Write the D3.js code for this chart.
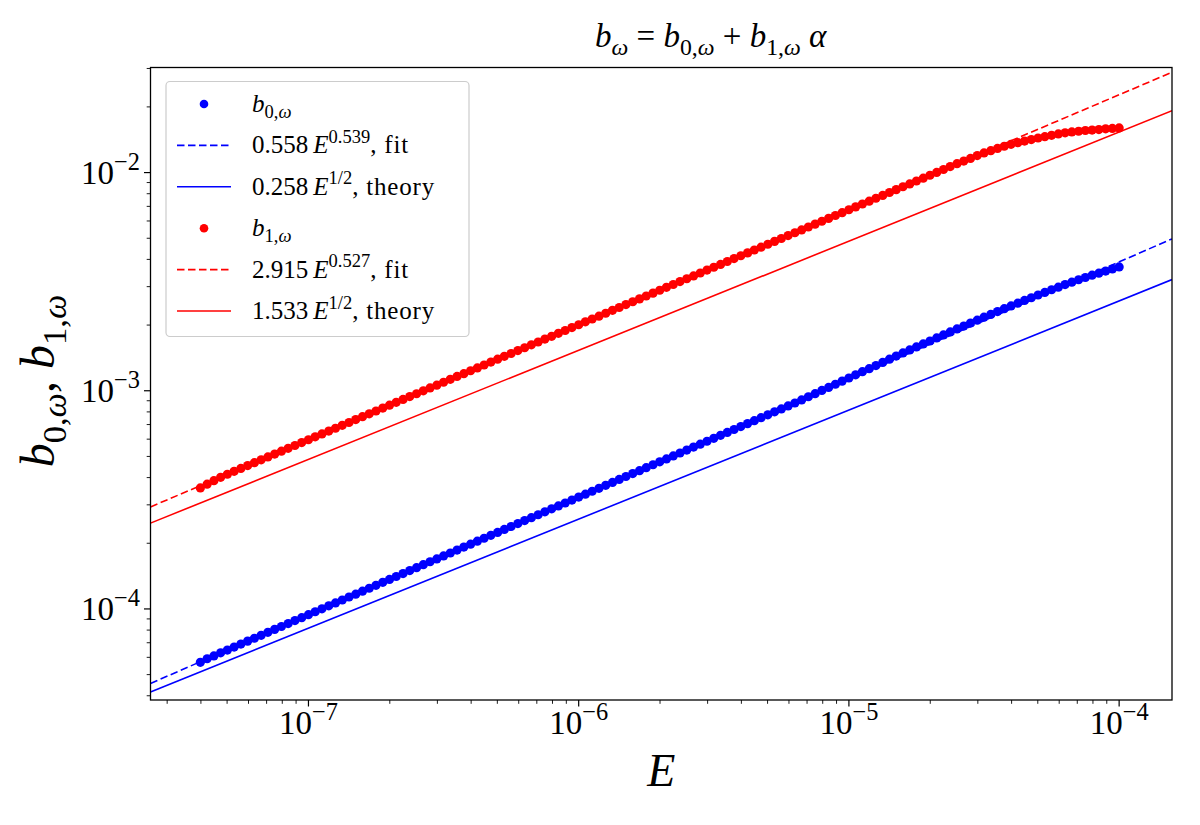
<!DOCTYPE html>
<html><head><meta charset="utf-8">
<script src="https://cdn.jsdelivr.net/npm/d3@7"></script>
<style>body{margin:0;background:#fff}svg{display:block}</style>
</head><body>
<svg id="c" width="1200" height="825"></svg>
<script>
// ---------------- data ----------------
const E = [
3.981e-8,4.217e-8,4.467e-8,4.732e-8,5.012e-8,5.309e-8,5.623e-8,5.957e-8,6.310e-8,6.683e-8,7.079e-8,7.499e-8,7.943e-8,8.414e-8,8.913e-8,9.441e-8,
1.000e-7,1.059e-7,1.122e-7,1.189e-7,1.259e-7,1.334e-7,1.413e-7,1.496e-7,1.585e-7,1.679e-7,1.778e-7,1.884e-7,1.995e-7,2.113e-7,2.239e-7,2.371e-7,2.512e-7,2.661e-7,2.818e-7,2.985e-7,3.162e-7,3.350e-7,3.548e-7,3.758e-7,3.981e-7,4.217e-7,4.467e-7,4.732e-7,5.012e-7,5.309e-7,5.623e-7,5.957e-7,6.310e-7,6.683e-7,7.079e-7,7.499e-7,7.943e-7,8.414e-7,8.913e-7,9.441e-7,
1.000e-6,1.059e-6,1.122e-6,1.189e-6,1.259e-6,1.334e-6,1.413e-6,1.496e-6,1.585e-6,1.679e-6,1.778e-6,1.884e-6,1.995e-6,2.113e-6,2.239e-6,2.371e-6,2.512e-6,2.661e-6,2.818e-6,2.985e-6,3.162e-6,3.350e-6,3.548e-6,3.758e-6,3.981e-6,4.217e-6,4.467e-6,4.732e-6,5.012e-6,5.309e-6,5.623e-6,5.957e-6,6.310e-6,6.683e-6,7.079e-6,7.499e-6,7.943e-6,8.414e-6,8.913e-6,9.441e-6,
1.000e-5,1.059e-5,1.122e-5,1.189e-5,1.259e-5,1.334e-5,1.413e-5,1.496e-5,1.585e-5,1.679e-5,1.778e-5,1.884e-5,1.995e-5,2.113e-5,2.239e-5,2.371e-5,2.512e-5,2.661e-5,2.818e-5,2.985e-5,3.162e-5,3.350e-5,3.548e-5,3.758e-5,3.981e-5,4.217e-5,4.467e-5,4.732e-5,5.012e-5,5.309e-5,5.623e-5,5.957e-5,6.310e-5,6.683e-5,7.079e-5,7.499e-5,7.943e-5,8.414e-5,8.913e-5,9.441e-5,
1.000e-4];

const b0 = [
5.69e-5,5.91e-5,6.09e-5,6.29e-5,6.48e-5,6.69e-5,6.90e-5,7.12e-5,7.34e-5,7.57e-5,7.81e-5,8.06e-5,8.31e-5,8.57e-5,8.84e-5,9.12e-5,9.41e-5,9.71e-5,
1.001e-4,1.033e-4,1.065e-4,1.099e-4,1.134e-4,1.169e-4,1.206e-4,1.244e-4,1.283e-4,1.324e-4,1.366e-4,1.408e-4,1.453e-4,1.499e-4,1.546e-4,1.595e-4,1.645e-4,1.696e-4,1.750e-4,1.805e-4,1.862e-4,1.921e-4,1.981e-4,2.044e-4,2.108e-4,2.175e-4,2.243e-4,2.314e-4,2.387e-4,2.462e-4,2.540e-4,2.619e-4,2.702e-4,2.787e-4,2.875e-4,2.966e-4,3.059e-4,3.155e-4,3.255e-4,3.358e-4,3.463e-4,3.573e-4,3.685e-4,3.801e-4,3.921e-4,4.045e-4,4.173e-4,4.304e-4,4.439e-4,4.580e-4,4.724e-4,4.872e-4,5.026e-4,5.184e-4,5.347e-4,5.517e-4,5.690e-4,5.869e-4,6.055e-4,6.245e-4,6.441e-4,6.645e-4,6.854e-4,7.069e-4,7.294e-4,7.523e-4,7.759e-4,8.005e-4,8.257e-4,8.518e-4,8.786e-4,9.080e-4,9.386e-4,9.700e-4,
1.003e-3,1.036e-3,1.071e-3,1.107e-3,1.144e-3,1.183e-3,1.223e-3,1.263e-3,1.305e-3,1.349e-3,1.395e-3,1.442e-3,1.491e-3,1.539e-3,1.588e-3,1.639e-3,1.691e-3,1.746e-3,1.802e-3,1.860e-3,1.920e-3,1.980e-3,2.042e-3,2.107e-3,2.173e-3,2.239e-3,2.307e-3,2.377e-3,2.449e-3,2.520e-3,2.594e-3,2.669e-3,2.747e-3,2.824e-3,2.903e-3,2.984e-3,3.067e-3,3.146e-3,3.226e-3,3.305e-3,3.385e-3,3.460e-3,3.537e-3,3.615e-3,3.694e-3];

const b1 = [
3.587e-4,3.732e-4,3.873e-4,4.012e-4,4.144e-4,4.272e-4,4.404e-4,4.539e-4,4.680e-4,4.824e-4,4.972e-4,5.124e-4,5.283e-4,5.445e-4,5.612e-4,5.787e-4,5.964e-4,6.147e-4,6.338e-4,6.533e-4,6.733e-4,6.942e-4,7.155e-4,7.375e-4,7.603e-4,7.837e-4,8.078e-4,8.328e-4,8.584e-4,8.847e-4,9.121e-4,9.402e-4,9.691e-4,9.988e-4,
1.030e-3,1.061e-3,1.094e-3,1.128e-3,1.163e-3,1.198e-3,1.235e-3,1.273e-3,1.312e-3,1.353e-3,1.395e-3,1.438e-3,1.482e-3,1.528e-3,1.574e-3,1.623e-3,1.673e-3,1.725e-3,1.777e-3,1.833e-3,1.889e-3,1.947e-3,2.007e-3,2.069e-3,2.132e-3,2.198e-3,2.266e-3,2.336e-3,2.408e-3,2.482e-3,2.558e-3,2.637e-3,2.718e-3,2.802e-3,2.889e-3,2.978e-3,3.069e-3,3.164e-3,3.261e-3,3.361e-3,3.465e-3,3.572e-3,3.682e-3,3.795e-3,3.912e-3,4.033e-3,4.156e-3,4.285e-3,4.417e-3,4.552e-3,4.694e-3,4.838e-3,4.986e-3,5.141e-3,5.299e-3,5.462e-3,5.631e-3,5.804e-3,5.982e-3,6.167e-3,6.357e-3,6.552e-3,6.753e-3,6.963e-3,7.177e-3,7.397e-3,7.626e-3,7.860e-3,8.102e-3,8.353e-3,8.609e-3,8.874e-3,9.149e-3,9.430e-3,9.719e-3,
1.002e-2,1.033e-2,1.065e-2,1.098e-2,1.129e-2,1.161e-2,1.196e-2,1.231e-2,1.260e-2,1.290e-2,1.320e-2,1.348e-2,1.371e-2,1.394e-2,1.417e-2,1.440e-2,1.461e-2,1.482e-2,1.503e-2,1.521e-2,1.536e-2,1.547e-2,1.559e-2,1.566e-2,1.574e-2,1.586e-2,1.594e-2,1.602e-2];

const fitCoef = [0.558, 2.915];
const fitExp = [0.539, 0.527];
const fitExpLabel = ["0.539", "0.527"];
const theoryCoef = [0.258, 1.533];
const theoryExp = [0.5, 0.5];
const seriesNames = ["0", "1"];
const seriesColors = ["#0000ff", "#ff0000"];
const xTickVals = [1e-7, 1e-6, 1e-5, 1e-4];
const xTickExpLabels = ["\u22127", "\u22126", "\u22125", "\u22124"];
const yTickVals = [1e-4, 1e-3, 1e-2];
const yTickExpLabels = ["\u22124", "\u22123", "\u22122"];
const xDomain = [2.603e-8, 1.569e-4];
const yDomain = [3.825e-5, 3.031e-2];

// ---------------- layout ----------------
const FONT = "'Liberation Serif','DejaVu Serif',serif";
const L = 150.5, R = 1172, T = 67.5, B = 700;
const svg = d3.select("#c");
const x = d3.scaleLog().domain(xDomain).range([L, R]);
const y = d3.scaleLog().domain(yDomain).range([B, T]);

svg.append("defs").append("clipPath").attr("id", "clip")
  .append("rect").attr("x", L).attr("y", T).attr("width", R - L).attr("height", B - T);

function rich(g, px, py, segs, size, anchor, scr) {
  const sr = scr || 0.7;
  const t = g.append("text").attr("x", px).attr("y", py)
    .attr("font-size", size).attr("font-family", FONT)
    .attr("text-anchor", anchor || "start").attr("fill", "#000");
  let cur = 0;
  segs.forEach(s => {
    const target = s.sub ? size * 0.25 : (s.sup ? -size * 0.42 : 0);
    const ts = t.append("tspan").text(s.t).attr("dy", target - cur);
    cur = target;
    if (s.sub || s.sup) ts.attr("font-size", size * sr);
    if (s.it) ts.attr("font-style", "italic");
  });
  return t;
}
// center a text element horizontally (in its own coordinates) around cx
function centerAt(t, cx) {
  t.attr("text-anchor", "start").attr("x", 0);
  const bb = t.node().getBBox();
  t.attr("x", cx - bb.width / 2 - bb.x);
}

// data layers
const plot = svg.append("g").attr("clip-path", "url(#clip)");
const series = [b0, b1];
const lineGen = d3.line().x(d => x(d[0])).y(d => y(d[1]));
series.forEach((vals, s) => {
  const col = seriesColors[s];
  plot.append("g").selectAll("circle").data(E.map((e, i) => [e, vals[i]])).join("circle")
    .attr("cx", d => x(d[0])).attr("cy", d => y(d[1])).attr("r", 4.6).attr("fill", col);
  const ends = x.domain();
  plot.append("path")
    .attr("d", lineGen(ends.map(e => [e, fitCoef[s] * Math.pow(e, fitExp[s])])))
    .attr("fill", "none").attr("stroke", col).attr("stroke-width", 1.6).attr("stroke-dasharray", "7.5,3.5");
  plot.append("path")
    .attr("d", lineGen(ends.map(e => [e, theoryCoef[s] * Math.pow(e, theoryExp[s])])))
    .attr("fill", "none").attr("stroke", col).attr("stroke-width", 1.6);
});

// frame
svg.append("rect").attr("x", L).attr("y", T).attr("width", R - L).attr("height", B - T)
  .attr("fill", "none").attr("stroke", "#000").attr("stroke-width", 1.3);

// ticks
const isMajor = v => Math.abs(Math.log10(v) - Math.round(Math.log10(v))) < 1e-9;
const axG = svg.append("g").attr("stroke", "#000");
x.ticks().forEach(v => {
  const px = x(v); if (px < L - 0.5 || px > R + 0.5) return;
  const len = isMajor(v) ? 6.5 : 3.8;
  axG.append("line").attr("x1", px).attr("x2", px).attr("y1", B).attr("y2", B + len)
    .attr("stroke-width", isMajor(v) ? 1.2 : 0.9);
});
y.ticks().forEach(v => {
  const py = y(v); if (py < T - 0.5 || py > B + 0.5) return;
  const len = isMajor(v) ? 6.5 : 3.8;
  axG.append("line").attr("y1", py).attr("y2", py).attr("x1", L).attr("x2", L - len)
    .attr("stroke-width", isMajor(v) ? 1.2 : 0.9);
});
const tl = svg.append("g");
xTickVals.forEach((v, i) => {
  rich(tl, x(v), 734, [{t: "10"}, {t: xTickExpLabels[i], sup: true}], 33, "middle", 0.74);
});
yTickVals.forEach((v, i) => {
  rich(tl, 140, y(v) + 11, [{t: "10"}, {t: yTickExpLabels[i], sup: true}], 33, "end", 0.74);
});

// axis labels & title
rich(svg, (L + R) / 2, 786, [{t: "E", it: true}], 46, "middle");
const yl = svg.append("g").attr("transform", "translate(54,0) rotate(-90)");
const ylt = rich(yl, 0, 0, [{t: "b", it: true}, {t: "0,", sub: true}, {t: "\u03c9", sub: true, it: true},
  {t: ", "}, {t: "b", it: true}, {t: "1,", sub: true}, {t: "\u03c9", sub: true, it: true}], 48, "start", 0.72);
centerAt(ylt, -381);
const tt = rich(svg, 0, 47, [{t: "b", it: true}, {t: "\u03c9", sub: true, it: true},
  {t: " = "}, {t: "b", it: true}, {t: "0,", sub: true}, {t: "\u03c9", sub: true, it: true},
  {t: " + "}, {t: "b", it: true}, {t: "1,", sub: true}, {t: "\u03c9", sub: true, it: true},
  {t: " "}, {t: "\u03b1", it: true}], 33, "start", 0.72);
centerAt(tt, 711);

// legend
const lg = svg.append("g");
lg.append("rect").attr("x", 166).attr("y", 81.5).attr("width", 303).attr("height", 255).attr("rx", 4)
  .attr("fill", "#fff").attr("fill-opacity", 0.8).attr("stroke", "#cccccc").attr("stroke-width", 1.2);
const rows = [];
series.forEach((_, s) => {
  rows.push({type: "dot", s, segs: [{t: "b", it: true}, {t: seriesNames[s] + ",", sub: true}, {t: "\u03c9", sub: true, it: true}]});
  rows.push({type: "dash", s, segs: [{t: fitCoef[s].toFixed(3) + "\u2009"}, {t: "E", it: true}, {t: fitExpLabel[s], sup: true}, {t: ", fit"}]});
  rows.push({type: "solid", s, segs: [{t: theoryCoef[s].toFixed(3) + "\u2009"}, {t: "E", it: true}, {t: "1/2", sup: true}, {t: ", theory"}]});
});
rows.forEach((r, i) => {
  const ry = 104 + i * 41.4;
  const col = seriesColors[r.s];
  if (r.type === "dot") lg.append("circle").attr("cx", 204).attr("cy", ry).attr("r", 4.3).attr("fill", col);
  else lg.append("line").attr("x1", 177).attr("x2", 231).attr("y1", ry).attr("y2", ry)
    .attr("stroke", col).attr("stroke-width", 1.6).attr("stroke-dasharray", r.type === "dash" ? "7.5,3.5" : null);
  const t = rich(lg, 252, ry + 8, r.segs, 25, "start", 0.74);
  t.selectAll("tspan").filter(function() { return /fit|theory/.test(this.textContent); })
    .attr("letter-spacing", 0.8);
});
</script>
</body></html>
